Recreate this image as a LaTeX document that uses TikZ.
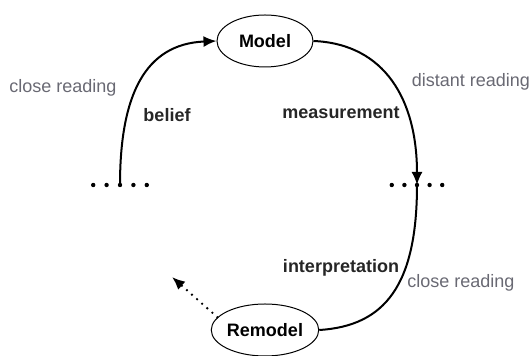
\documentclass[tikz,border=0pt]{standalone}
\usepackage{fontspec}
\setmainfont{Liberation Sans}
\usetikzlibrary{shapes}
\usetikzlibrary{arrows.meta}
\definecolor{readgray}{RGB}{105,105,115}

\begin{document}
\begin{tikzpicture}[x=0.5pt,y=-0.5pt]
  \useasboundingbox (0,0) rectangle (531,356);
  \fontsize{9}{11}\selectfont
  \tikzstyle{every node}=[ellipse,draw,line width=0.5pt,minimum width=48pt,minimum height=26pt,inner sep=0pt,font=\bfseries]
  \node (Model)   at (265,41)  {Model};
  \node (Remodel) at (265,330) {Remodel};

%% the two rows of dots
  \coordinate (left-dots)  at (120,185);
  \coordinate (right-dots) at (417,185);
  \foreach \n in {-2,-1,0,1,2} {
    \fill ([xshift=\n*6.7pt] left-dots)  circle (1.1pt);
    \fill ([xshift=\n*6.3pt] right-dots) circle (1.1pt);
  };

%% arcs
  \tikzstyle{arc}=[line width=1pt,-{Latex[length=6.5pt,width=5.5pt]}]
  \draw[arc] (left-dots) .. controls (120,95) and (145,44) .. (Model.west);
  \draw[arc] (Model.east) .. controls (385,44) and (417,100) .. (right-dots);
  \draw[line width=1pt] (right-dots) .. controls (417,285) and (385,326) .. (Remodel.east);
  \draw[arc,line width=1.3pt,line cap=round,dash pattern=on 0pt off 3.4pt] (Remodel.165) -- (172,277);

%% labels
  \tikzstyle{every node}=[draw=none,inner sep=0pt]
  \foreach \x/\y/\txt in {63/88/close reading, 471/82/distant reading, 461/283/close reading}
    \node[text=readgray] at (\x,\y) {\txt};
  \foreach \x/\y/\txt in {167/115/belief, 341/113/measurement, 341/268/interpretation}
    \node[font=\bfseries,text=black!85] at (\x,\y) {\txt};
\end{tikzpicture}
\end{document}
